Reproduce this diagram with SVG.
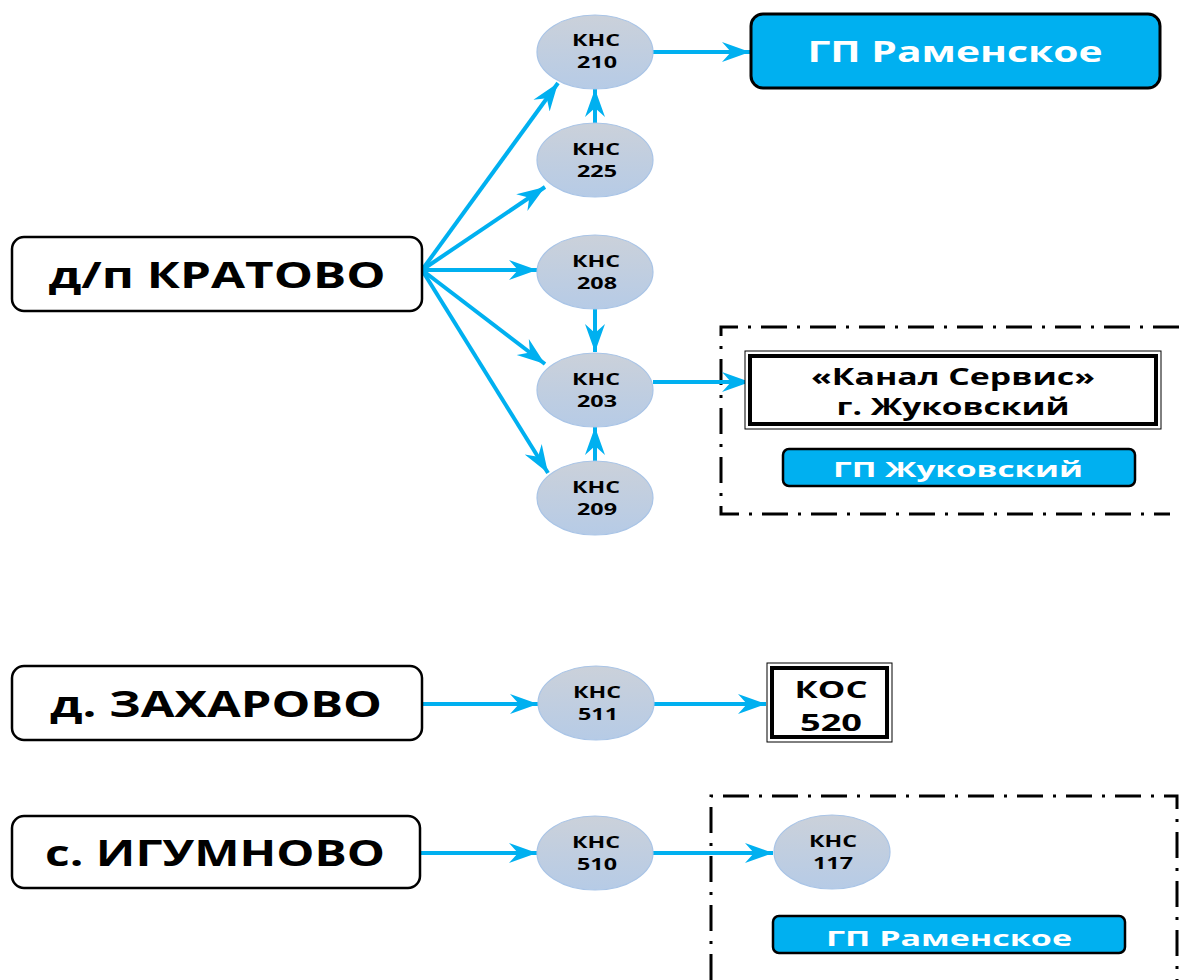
<svg xmlns="http://www.w3.org/2000/svg" width="1179" height="980" viewBox="0 0 1179 980">
<defs>
<linearGradient id="eg" x1="0" y1="0" x2="0" y2="1">
<stop offset="0" stop-color="#cbd1da"/>
<stop offset="1" stop-color="#b6cbe6"/>
</linearGradient>
<marker id="ar" markerUnits="userSpaceOnUse" markerWidth="30" markerHeight="24" viewBox="0 -12 30 24" refX="28" refY="0" orient="auto">
<path d="M0,-10 L28,0 L0,10 L9,0 Z" fill="#00b0f0"/>
</marker>
<style>
.t{font-family:"Open Sans","DejaVu Sans",sans-serif;font-weight:bold;text-anchor:middle}
.k{font-size:16px;fill:#000}
.big{font-size:36px;fill:#000}
.ell{fill:url(#eg);stroke:#a9c4e6;stroke-width:1.2}
.town{fill:#fff;stroke:#000;stroke-width:2.5}
.gp{fill:#00b0f0;stroke:#000;stroke-width:3}
.w{fill:#fff}
.c{stroke:#00b0f0;stroke-width:4;fill:none;marker-end:url(#ar)}
.dd{stroke:#000;stroke-width:3;fill:none;stroke-dasharray:26 10 3 10}
</style>
</defs>

<g id="frames">
<path class="dd" d="M1179,327 L721,327 L721,514 L1170,514"/>
<path class="dd" d="M711,980 L711,796 L1177,796 L1177,980"/>
</g>

<g id="connectors">
<line class="c" x1="422" y1="270" x2="558" y2="83"/>
<line class="c" x1="422" y1="270" x2="545" y2="187"/>
<line class="c" x1="422" y1="270" x2="537" y2="270"/>
<line class="c" x1="422" y1="270" x2="545" y2="364"/>
<line class="c" x1="422" y1="270" x2="548" y2="473"/>
<line class="c" x1="595" y1="123" x2="595" y2="89"/>
<line class="c" x1="595" y1="309" x2="595" y2="352"/>
<line class="c" x1="595" y1="461" x2="595" y2="427"/>
<line class="c" x1="653" y1="52" x2="750" y2="52"/>
<line class="c" x1="653" y1="382" x2="750" y2="382"/>
<line class="c" x1="422" y1="704" x2="538" y2="704"/>
<line class="c" x1="654" y1="704" x2="766" y2="704"/>
<line class="c" x1="420" y1="853" x2="537" y2="853"/>
<line class="c" x1="653" y1="853" x2="773" y2="853"/>
</g>

<g id="kratovo">
<rect class="town" x="12" y="237" width="410" height="74" rx="12"/>
<text class="t big" x="217" y="288" textLength="337" lengthAdjust="spacingAndGlyphs">д/п КРАТОВО</text>
</g>
<g id="zaharovo">
<rect class="town" x="12" y="666" width="410" height="74" rx="12"/>
<text class="t big" x="216" y="717" textLength="332" lengthAdjust="spacingAndGlyphs">д. ЗАХАРОВО</text>
</g>
<g id="igumnovo">
<rect class="town" x="12" y="816" width="408" height="72" rx="12"/>
<text class="t big" x="215" y="866" textLength="340" lengthAdjust="spacingAndGlyphs">с. ИГУМНОВО</text>
</g>

<g id="kns210">
<ellipse class="ell" cx="595" cy="52" rx="58" ry="37"/>
<text class="t k" x="596" y="46" textLength="48" lengthAdjust="spacingAndGlyphs">КНС</text>
<text class="t k" x="597" y="68" textLength="40" lengthAdjust="spacingAndGlyphs">210</text>
</g>
<g id="kns225">
<ellipse class="ell" cx="595" cy="160" rx="58" ry="37"/>
<text class="t k" x="596" y="155" textLength="48" lengthAdjust="spacingAndGlyphs">КНС</text>
<text class="t k" x="597" y="177" textLength="40" lengthAdjust="spacingAndGlyphs">225</text>
</g>
<g id="kns208">
<ellipse class="ell" cx="595" cy="272" rx="58" ry="37"/>
<text class="t k" x="596" y="267" textLength="48" lengthAdjust="spacingAndGlyphs">КНС</text>
<text class="t k" x="597" y="289" textLength="40" lengthAdjust="spacingAndGlyphs">208</text>
</g>
<g id="kns203">
<ellipse class="ell" cx="595" cy="390" rx="58" ry="37"/>
<text class="t k" x="596" y="385" textLength="48" lengthAdjust="spacingAndGlyphs">КНС</text>
<text class="t k" x="597" y="407" textLength="40" lengthAdjust="spacingAndGlyphs">203</text>
</g>
<g id="kns209">
<ellipse class="ell" cx="595" cy="498" rx="58" ry="37"/>
<text class="t k" x="596" y="493" textLength="48" lengthAdjust="spacingAndGlyphs">КНС</text>
<text class="t k" x="597" y="515" textLength="40" lengthAdjust="spacingAndGlyphs">209</text>
</g>
<g id="kns511">
<ellipse class="ell" cx="596" cy="703" rx="58" ry="37"/>
<text class="t k" x="597" y="698" textLength="48" lengthAdjust="spacingAndGlyphs">КНС</text>
<text class="t k" x="598" y="720" textLength="40" lengthAdjust="spacingAndGlyphs">511</text>
</g>
<g id="kns510">
<ellipse class="ell" cx="595" cy="853" rx="58" ry="37"/>
<text class="t k" x="596" y="848" textLength="48" lengthAdjust="spacingAndGlyphs">КНС</text>
<text class="t k" x="597" y="870" textLength="40" lengthAdjust="spacingAndGlyphs">510</text>
</g>
<g id="kns117">
<ellipse class="ell" cx="832" cy="852" rx="58" ry="37"/>
<text class="t k" x="833" y="847" textLength="48" lengthAdjust="spacingAndGlyphs">КНС</text>
<text class="t k" x="833" y="869" textLength="40" lengthAdjust="spacingAndGlyphs">117</text>
</g>

<g id="gp-ramenskoe-top">
<rect class="gp" x="751" y="14" width="409" height="74" rx="12"/>
<text class="t w" x="955" y="62" font-size="29" textLength="295" lengthAdjust="spacingAndGlyphs">ГП Раменское</text>
</g>

<g id="kanal-servis">
<rect x="745" y="351" width="416" height="78" fill="#fff" stroke="#000" stroke-width="1"/>
<rect x="750" y="356" width="406" height="68" fill="#fff" stroke="#000" stroke-width="4"/>
<text class="t" x="953" y="385" font-size="24" textLength="284" lengthAdjust="spacingAndGlyphs">«Канал Сервис»</text>
<text class="t" x="953" y="415" font-size="24" textLength="233" lengthAdjust="spacingAndGlyphs">г. Жуковский</text>
</g>

<g id="gp-zhukovsky">
<rect x="783" y="449" width="352" height="37" rx="6" fill="#00b0f0" stroke="#000" stroke-width="2.5"/>
<text class="t w" x="958" y="477" font-size="22" textLength="250" lengthAdjust="spacingAndGlyphs">ГП Жуковский</text>
</g>

<g id="kos520">
<rect x="767" y="663" width="125" height="79" fill="#fff" stroke="#000" stroke-width="1"/>
<rect x="772" y="668" width="115" height="69" fill="#fff" stroke="#000" stroke-width="4"/>
<text class="t" x="831" y="698" font-size="24" textLength="73" lengthAdjust="spacingAndGlyphs">КОС</text>
<text class="t" x="831" y="731" font-size="24" textLength="62" lengthAdjust="spacingAndGlyphs">520</text>
</g>

<g id="gp-ramenskoe-bottom">
<rect x="773" y="916" width="352" height="37" rx="6" fill="#00b0f0" stroke="#000" stroke-width="2.5"/>
<text class="t w" x="949" y="946" font-size="22" textLength="246" lengthAdjust="spacingAndGlyphs">ГП Раменское</text>
</g>
</svg>
